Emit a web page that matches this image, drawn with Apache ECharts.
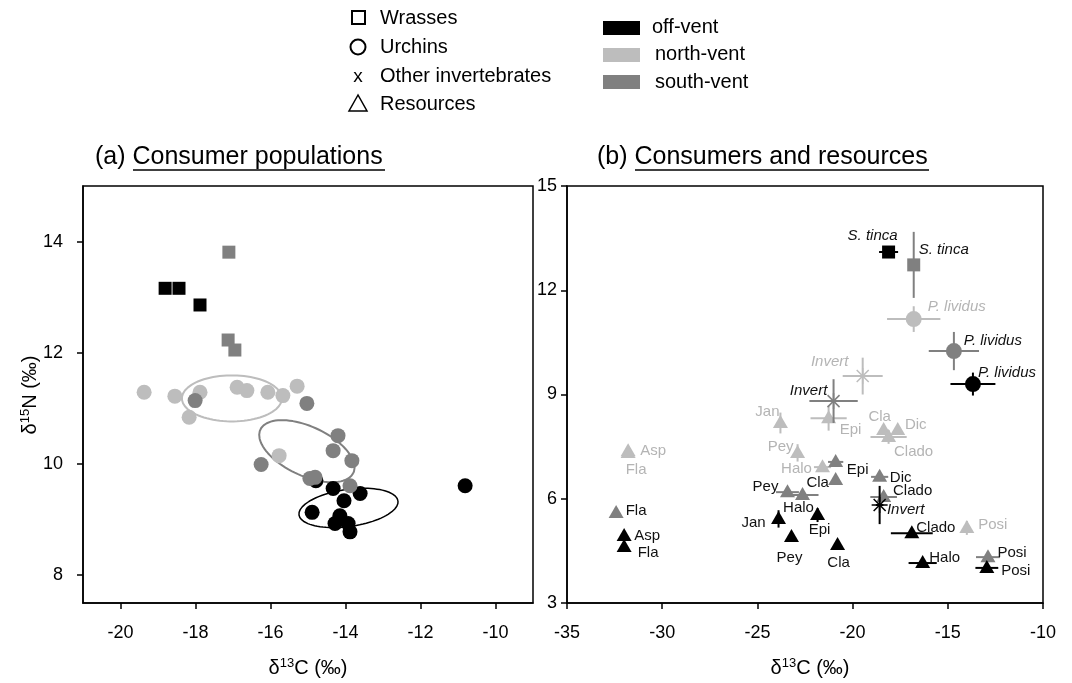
<!DOCTYPE html>
<html><head><meta charset="utf-8">
<script src="https://cdn.jsdelivr.net/npm/echarts@6/dist/echarts.min.js"></script>
<style>html,body{margin:0;padding:0;background:#fff}#c{width:1072px;height:683px}</style>
</head><body><div id="c"></div>
<script>
// ---------- Panel (a): consumer populations (d13C, d15N) ----------
const offVentWrasses = [[-18.81,13.16],[-18.44,13.16],[-17.88,12.86]];
const southVentWrasses = [[-17.11,13.81],[-17.13,12.23],[-16.95,12.05]];
const northVentUrchins = [[-19.37,11.29],[-18.55,11.22],[-17.88,11.29],[-18.17,10.84],[-16.89,11.38],[-16.63,11.32],[-16.07,11.29],[-15.67,11.23],[-15.29,11.40],[-15.77,10.15]];
const southVentUrchins = [[-18.01,11.14],[-15.03,11.09],[-14.20,10.51],[-14.33,10.24],[-13.83,10.06],[-16.25,9.99],[-14.95,9.74],[-14.81,9.76],[-13.88,9.61]];
const offVentUrchins = [[-14.79,9.70],[-14.33,9.56],[-13.61,9.47],[-14.04,9.34],[-14.89,9.13],[-14.15,9.07],[-14.28,8.93],[-13.93,8.93],[-13.88,8.78],[-10.81,9.61]];
// ellipses: centre, half-axis vector u, half-axis vector v (data units)
const ellipseNorth = {c:[-17.03,11.18], u:[1.333,0], v:[0,0.414]};
const ellipseSouth = {c:[-15.03,10.23], u:[1.24,-0.39], v:[-0.28,-0.40]};
const ellipseOff = {c:[-13.92,9.21], u:[1.32,0.126], v:[0.069,-0.33]};

// ---------- Panel (b): consumers and resources: [d13C, d15N, errX, errY] ----------
const consumerNamesOff = ['S. tinca','P. lividus','Invert'];
const consumersOff = [[-18.11,13.10,0.5,0.15],[-13.68,9.30,1.18,0.33],[-18.58,5.82,0.2,0.55]];
const consumerNamesSouth = ['S. tinca','P. lividus','Invert'];
const consumersSouth = [[-16.79,12.73,0.12,0.95],[-14.68,10.25,1.32,0.55],[-21.0,8.81,1.27,0.63]];
const consumerNamesNorth = ['P. lividus','Invert'];
const consumersNorth = [[-16.79,11.17,1.4,0.37],[-19.47,9.53,1.05,0.53]];

const resourceNamesNorth = ['Asp','Fla','Jan','Pey','Halo','Epi','Cla','Dic','Clado','Posi'];
const resourcesNorth = [[-31.79,7.37,0,0],[-31.79,7.32,0,0],[-23.79,8.18,0,0.3],[-22.89,7.32,0,0.25],[-21.58,6.91,0.45,0],[-21.26,8.32,0.95,0.36],[-18.37,7.98,0,0],[-17.63,7.98,0,0],[-18.11,7.78,0.95,0.2],[-14.0,5.16,0,0.2]];
const resourceNamesSouth = ['Fla','Pey','Halo','Epi','Cla','Dic','Clado','Posi'];
const resourcesSouth = [[-32.42,5.59,0,0],[-23.42,6.19,0.6,0],[-22.63,6.11,0.84,0],[-20.89,7.06,0.4,0],[-20.89,6.54,0,0],[-18.58,6.63,0.45,0],[-18.37,6.05,0.7,0],[-12.89,4.32,0.63,0]];
const resourceNamesOff = ['Asp','Fla','Jan','Pey','Epi','Cla','Clado','Halo','Posi'];
const resourcesOff = [[-32.0,4.93,0,0],[-32.0,4.61,0,0],[-23.89,5.42,0,0.25],[-23.21,4.90,0,0],[-21.84,5.53,0,0.2],[-20.79,4.67,0,0],[-16.89,5.01,1.1,0],[-16.32,4.15,0.74,0],[-12.95,4.01,0.6,0]];

// tick labels
const xTicksA = [-20,-18,-16,-14,-12,-10];
const yTicksA = [8,10,12,14];

// ---------- styling / label placement (pixels) ----------
const C_OFF = '#000000', C_NORTH = '#bdbdbd', C_SOUTH = '#808080';
const L_NORTH = '#b4b4b4', L_DARK = '#111111';
const FONT = '"Liberation Sans", Arial, sans-serif';
const offLabelPos = [[-16,-16],[34,-11],[26,5]];
const southLabelPos = [[30,-15],[39,-10],[-25,-10]];
const northLabelPos = [[43,-12],[-33,-14]];
const resNorthLabelPos = [[25,0],[8,17],[-13,-11],[-17,-6],[-26,2],[22,12],[-4,-13],[18,-5],[25,15],[26,-3]];
const resSouthLabelPos = [[20,-2],[-22,-5],[-4,13],[22,8],[-18,3],[21,1],[29,-6],[24,-4]];
const resOffLabelPos = [[23,0],[24,6],[-25,4],[-2,21],[2,15],[1,18],[24,-5],[22,-5],[29,3]];

function ellipsePoints(e){
  const pts=[];
  for(let k=0;k<=90;k++){
    const t=k/90*2*Math.PI;
    pts.push([e.c[0]+Math.cos(t)*e.u[0]+Math.sin(t)*e.v[0], e.c[1]+Math.cos(t)*e.u[1]+Math.sin(t)*e.v[1]]);
  }
  return pts;
}

function markerShape(kind, p, color){
  const [x,y]=p;
  if(kind==='tri') return {type:'polygon',shape:{points:[[x,y-8],[x-7.5,y+5],[x+7.5,y+5]]},style:{fill:color}};
  if(kind==='sq') return {type:'rect',shape:{x:x-6.5,y:y-6.5,width:13,height:13},style:{fill:color}};
  if(kind==='circ') return {type:'circle',shape:{cx:x,cy:y,r:8},style:{fill:color}};
  const d=6;
  return {type:'group',children:[
    {type:'line',shape:{x1:x-d,y1:y-d,x2:x+d,y2:y+d},style:{stroke:color,lineWidth:1.5}},
    {type:'line',shape:{x1:x-d,y1:y+d,x2:x+d,y2:y-d},style:{stroke:color,lineWidth:1.5}},
    {type:'line',shape:{x1:x-8,y1:y,x2:x+8,y2:y},style:{stroke:color,lineWidth:1.5}},
    {type:'line',shape:{x1:x,y1:y-8,x2:x,y2:y+8},style:{stroke:color,lineWidth:1.5}}
  ]};
}

function itemSeries(values, names, shapes, color, labelColor, labelPos, italic, z){
  return {
    type:'custom', xAxisIndex:1, yAxisIndex:1, z:z||2,
    data: values.map((v,i)=>[v[0],v[1],v[2],v[3],i]),
    encode:{x:0,y:1},
    renderItem:function(params, api){
      const x=api.value(0), y=api.value(1), ex=api.value(2), ey=api.value(3), i=api.value(4);
      const p=api.coord([x,y]);
      const ch=[];
      if(ex>0){const a=api.coord([x-ex,y]), b=api.coord([x+ex,y]);
        ch.push({type:'line',shape:{x1:a[0],y1:a[1],x2:b[0],y2:b[1]},style:{stroke:color,lineWidth:2}});}
      if(ey>0){const a=api.coord([x,y-ey]), b=api.coord([x,y+ey]);
        ch.push({type:'line',shape:{x1:a[0],y1:a[1],x2:b[0],y2:b[1]},style:{stroke:color,lineWidth:2}});}
      const kind = Array.isArray(shapes)?shapes[i]:shapes;
      ch.push(markerShape(kind,p,color));
      const off=labelPos[i];
      ch.push({type:'text',x:p[0]+off[0],y:p[1]+off[1],style:{text:names[i],fill:labelColor,font:(italic?'italic ':'')+'15px '+FONT,align:'center',verticalAlign:'middle'}});
      return {type:'group',children:ch};
    }
  };
}

const chart = echarts.init(document.getElementById('c'), null, {renderer:'canvas'});

const axisLineStyle = {color:'#000', width:1.5};
const richName = {
  a:{fontSize:20,fontFamily:FONT,color:'#000'},
  s:{fontSize:13,fontFamily:FONT,color:'#000',padding:[0,0,10,0]}
};

const option = {
  animation:false,
  backgroundColor:'#fff',
  grid:[
    {left:83, right:1072-533, top:186, bottom:683-603, show:true, borderColor:'#000', borderWidth:1.5, backgroundColor:'transparent'},
    {left:567, right:1072-1043, top:186, bottom:683-603, show:true, borderColor:'#000', borderWidth:1.5, backgroundColor:'transparent'}
  ],
  xAxis:[
    {gridIndex:0,type:'value',min:-21,max:-9,
     axisLine:{show:true,onZero:false,lineStyle:axisLineStyle},
     axisTick:{show:true,length:6,customValues:xTicksA,lineStyle:axisLineStyle},
     axisLabel:{customValues:xTicksA,fontSize:18,fontFamily:FONT,color:'#000',margin:21},
     splitLine:{show:false}},
    {gridIndex:1,type:'value',min:-35,max:-10,interval:5,
     axisLine:{show:true,onZero:false,lineStyle:axisLineStyle},
     axisTick:{show:true,length:6,lineStyle:axisLineStyle},
     axisLabel:{fontSize:18,fontFamily:FONT,color:'#000',margin:21},
     splitLine:{show:false}}
  ],
  yAxis:[
    {gridIndex:0,type:'value',min:7.5,max:15,
     axisLine:{show:true,onZero:false,lineStyle:axisLineStyle},
     axisTick:{show:true,length:6,customValues:yTicksA,lineStyle:axisLineStyle},
     axisLabel:{customValues:yTicksA,fontSize:18,fontFamily:FONT,color:'#000',margin:20},
     splitLine:{show:false}},
    {gridIndex:1,type:'value',min:3,max:15,interval:3,
     axisLine:{show:true,onZero:false,lineStyle:axisLineStyle},
     axisTick:{show:true,length:6,lineStyle:axisLineStyle},
     axisLabel:{fontSize:18,fontFamily:FONT,color:'#000',margin:10},
     splitLine:{show:false}}
  ],
  series:[
    {type:'line',xAxisIndex:0,yAxisIndex:0,data:ellipsePoints(ellipseNorth),showSymbol:false,symbol:'none',lineStyle:{color:C_NORTH,width:2},z:1},
    {type:'line',xAxisIndex:0,yAxisIndex:0,data:ellipsePoints(ellipseSouth),showSymbol:false,symbol:'none',lineStyle:{color:C_SOUTH,width:2},z:1},
    {type:'line',xAxisIndex:0,yAxisIndex:0,data:ellipsePoints(ellipseOff),showSymbol:false,symbol:'none',lineStyle:{color:C_OFF,width:1.5},z:1},
    {type:'scatter',xAxisIndex:0,yAxisIndex:0,data:offVentUrchins,symbol:'circle',symbolSize:15,itemStyle:{color:C_OFF,opacity:1},z:2},
    {type:'scatter',xAxisIndex:0,yAxisIndex:0,data:northVentUrchins,symbol:'circle',symbolSize:15,itemStyle:{color:C_NORTH,opacity:1},z:3},
    {type:'scatter',xAxisIndex:0,yAxisIndex:0,data:southVentUrchins,symbol:'circle',symbolSize:15,itemStyle:{color:C_SOUTH,opacity:1},z:4},
    {type:'scatter',xAxisIndex:0,yAxisIndex:0,data:offVentWrasses,symbol:'rect',symbolSize:13,itemStyle:{color:C_OFF,opacity:1},z:5},
    {type:'scatter',xAxisIndex:0,yAxisIndex:0,data:southVentWrasses,symbol:'rect',symbolSize:13,itemStyle:{color:C_SOUTH,opacity:1},z:5},
    itemSeries(resourcesNorth,resourceNamesNorth,'tri',C_NORTH,L_NORTH,resNorthLabelPos,false,2),
    itemSeries(resourcesSouth,resourceNamesSouth,'tri',C_SOUTH,L_DARK,resSouthLabelPos,false,3),
    itemSeries(resourcesOff,resourceNamesOff,'tri',C_OFF,L_DARK,resOffLabelPos,false,4),
    itemSeries(consumersNorth,consumerNamesNorth,['circ','ast'],C_NORTH,L_NORTH,northLabelPos,true,5),
    itemSeries(consumersSouth,consumerNamesSouth,['sq','circ','ast'],C_SOUTH,L_DARK,southLabelPos,true,6),
    itemSeries(consumersOff,consumerNamesOff,['sq','circ','ast'],C_OFF,L_DARK,offLabelPos,true,7)
  ],
  graphic:[
    {type:'rect',shape:{x:352,y:11,width:13,height:13},style:{fill:'none',stroke:'#000',lineWidth:2}},
    {type:'text',x:380,y:18,style:{text:'Wrasses',font:'20px '+FONT,fill:'#000',verticalAlign:'middle'}},
    {type:'circle',shape:{cx:358,cy:47,r:7.5},style:{fill:'none',stroke:'#000',lineWidth:2}},
    {type:'text',x:380,y:47,style:{text:'Urchins',font:'20px '+FONT,fill:'#000',verticalAlign:'middle'}},
    {type:'text',x:358,y:77,style:{text:'x',font:'19px '+FONT,fill:'#000',align:'center',verticalAlign:'middle'}},
    {type:'text',x:380,y:76,style:{text:'Other invertebrates',font:'20px '+FONT,fill:'#000',verticalAlign:'middle'}},
    {type:'polygon',shape:{points:[[358,95],[349,111],[367,111]]},style:{fill:'none',stroke:'#000',lineWidth:1.5}},
    {type:'text',x:380,y:104,style:{text:'Resources',font:'20px '+FONT,fill:'#000',verticalAlign:'middle'}},
    {type:'rect',shape:{x:603,y:21,width:37,height:14},style:{fill:C_OFF}},
    {type:'text',x:652,y:27,style:{text:'off-vent',font:'20px '+FONT,fill:'#000',verticalAlign:'middle'}},
    {type:'rect',shape:{x:603,y:48,width:37,height:14},style:{fill:C_NORTH}},
    {type:'text',x:655,y:54,style:{text:'north-vent',font:'20px '+FONT,fill:'#000',verticalAlign:'middle'}},
    {type:'rect',shape:{x:603,y:75,width:37,height:14},style:{fill:C_SOUTH}},
    {type:'text',x:655,y:82,style:{text:'south-vent',font:'20px '+FONT,fill:'#000',verticalAlign:'middle'}},
    {type:'text',x:95,y:157,style:{text:'(a) Consumer populations',font:'25px '+FONT,fill:'#000',verticalAlign:'middle'}},
    {type:'line',shape:{x1:133,y1:170,x2:385,y2:170},style:{stroke:'#000',lineWidth:1.5}},
    {type:'text',x:597,y:157,style:{text:'(b) Consumers and resources',font:'25px '+FONT,fill:'#000',verticalAlign:'middle'}},
    {type:'line',shape:{x1:635,y1:170,x2:929,y2:170},style:{stroke:'#000',lineWidth:1.5}},
    {type:'text',x:308,y:668,style:{text:'{a|δ}{s|13}{a|C (‰)}',rich:richName,align:'center',verticalAlign:'middle'}},
    {type:'text',x:810,y:668,style:{text:'{a|δ}{s|13}{a|C (‰)}',rich:richName,align:'center',verticalAlign:'middle'}},
    {type:'text',x:30,y:395,rotation:Math.PI/2,style:{text:'{a|δ}{s|15}{a|N (‰)}',rich:richName,align:'center',verticalAlign:'middle'}}
  ]
};
chart.setOption(option);
</script>
</body></html>
